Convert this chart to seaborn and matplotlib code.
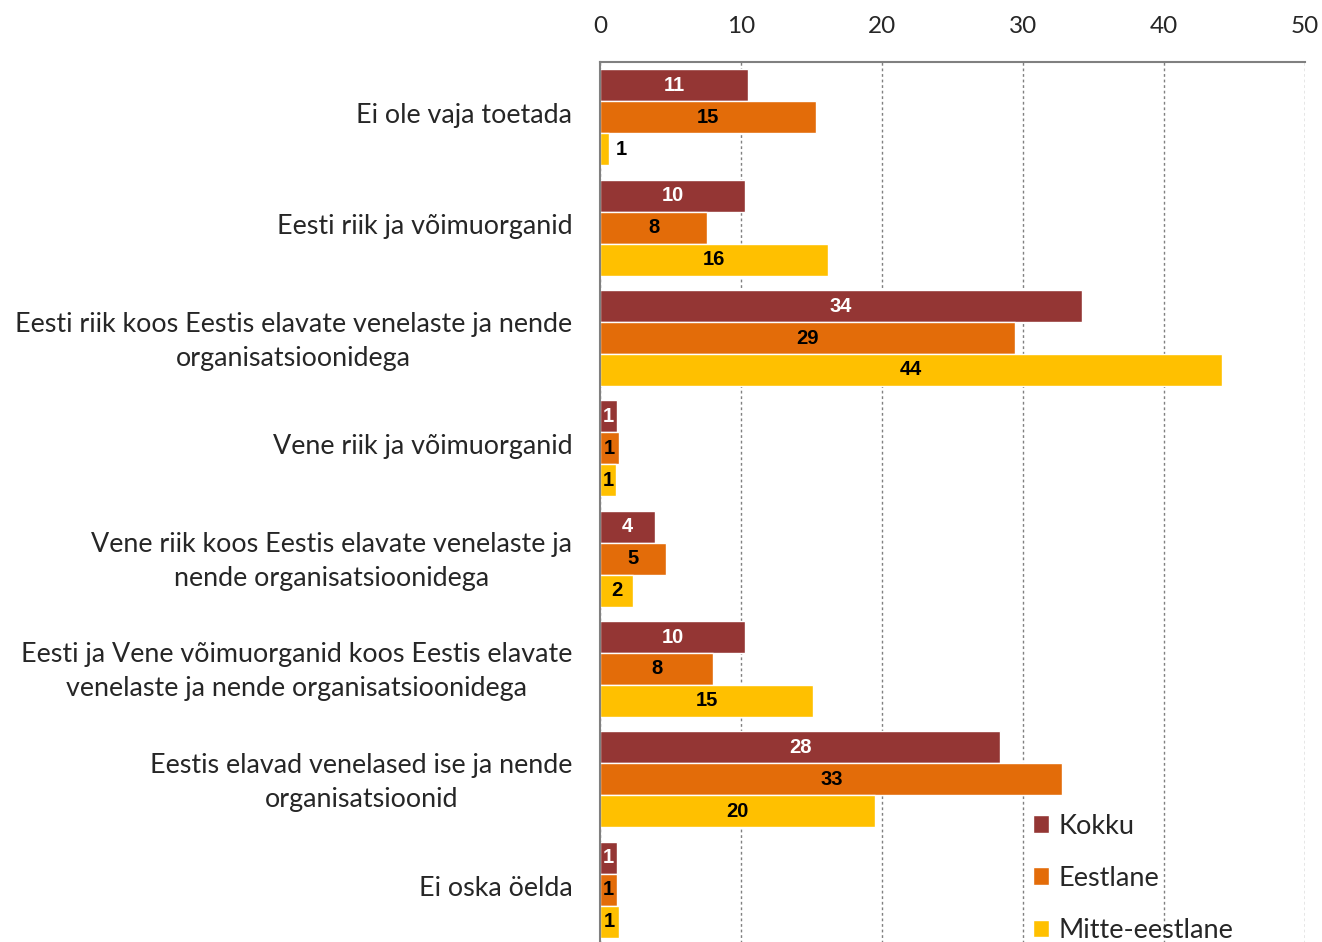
import numpy as np
import pandas as pd
import matplotlib
matplotlib.use("Agg")
import matplotlib.pyplot as plt
import matplotlib.transforms as mtransforms
import seaborn as sns

# kategooriad ja väärtused (%)
categories = [
    "Ei ole vaja toetada",
    "Eesti riik ja võimuorganid",
    "Eesti riik koos Eestis elavate venelaste ja nende\norganisatsioonidega",
    "Vene riik ja võimuorganid",
    "Vene riik koos Eestis elavate venelaste ja\nnende organisatsioonidega",
    "Eesti ja Vene võimuorganid koos Eestis elavate\nvenelaste ja nende organisatsioonidega",
    "Eestis elavad venelased ise ja nende\norganisatsioonid",
    "Ei oska öelda",
]
groups = ["Kokku", "Eestlane", "Mitte-eestlane"]

kokku = [10.5, 10.3, 34.2, 1.2, 3.9, 10.3, 28.4, 1.2]
eestlane = [15.3, 7.6, 29.4, 1.3, 4.7, 8.0, 32.8, 1.2]
mitte = [0.6, 16.2, 44.1, 1.1, 2.3, 15.1, 19.5, 1.3]

kokku_lbl = [11, 10, 34, 1, 4, 10, 28, 1]
eestlane_lbl = [15, 8, 29, 1, 5, 8, 33, 1]
mitte_lbl = [1, 16, 44, 1, 2, 15, 20, 1]

colors = ["#943634", "#E36C09", "#FFC000"]
label_colors = ["white", "black", "black"]

df = pd.DataFrame({
    "kategooria": categories * 3,
    "grupp": [g for g in groups for _ in categories],
    "protsent": kokku + eestlane + mitte,
})
labels = [kokku_lbl, eestlane_lbl, mitte_lbl]

sns.set_style("white")
plt.rcParams["font.family"] = ["Lato", "DejaVu Sans"]

fig = plt.figure(figsize=(13.22, 9.42), dpi=100)
ax = fig.add_axes([0.454, -0.003, 0.533, 0.937])

sns.barplot(data=df, y="kategooria", x="protsent", hue="grupp", order=categories,
            hue_order=groups, palette=colors, orient="h", width=0.87,
            saturation=1, ax=ax, legend=True)

# andmesildid
for cont, lbls, col in zip(ax.containers, labels, label_colors):
    for bar, lab in zip(cont.patches, lbls):
        w = bar.get_width()
        x = w / 2 if w >= 1 else w + 0.9
        y = bar.get_y() + bar.get_height() / 2
        ax.text(x, y, str(lab), ha="center", va="center", color=col,
                fontsize=14.5, fontweight="bold", family=["Liberation Sans"])

ax.set_xlim(0, 50)
ax.set_ylim(len(categories) - 0.5, -0.5)
ax.set_xticks([0, 10, 20, 30, 40, 50])
ax.xaxis.tick_top()
ax.tick_params(axis="x", length=0, pad=18, labelsize=17.5)
ax.tick_params(axis="y", which="major", length=0, pad=20, labelsize=19.4)
ax.set_yticks(np.arange(-0.5, len(categories)), minor=True)
ax.tick_params(axis="y", which="minor", length=6, color="#808080", width=1.5, direction="out")
shift = mtransforms.ScaledTranslation(0, 4 / 100, fig.dpi_scale_trans)
for t in ax.get_yticklabels():
    t.set_multialignment("center")
    t.set_linespacing(1.45)
    t.set_transform(t.get_transform() + shift)
ax.set_xlabel("")
ax.set_ylabel("")

ax.grid(axis="x", linestyle=(0, (2, 2)), color="#808080", linewidth=1)
ax.set_axisbelow(True)
for s in ["right", "bottom"]:
    ax.spines[s].set_visible(False)
ax.spines["top"].set_color("#808080")
ax.spines["left"].set_color("#808080")
ax.spines["top"].set_linewidth(1.5)
ax.spines["left"].set_linewidth(1.5)

handles, leg_labels = ax.get_legend_handles_labels()
ax.legend(handles, leg_labels, loc="upper left", bbox_to_anchor=(1019 / 1322, 1 - 800 / 942),
          bbox_transform=fig.transFigure, frameon=False, fontsize=19.5,
          handlelength=0.6, handleheight=0.6, handletextpad=0.35, labelspacing=1.0,
          borderpad=0, title=None)

fig.savefig("out.png", dpi=100)
